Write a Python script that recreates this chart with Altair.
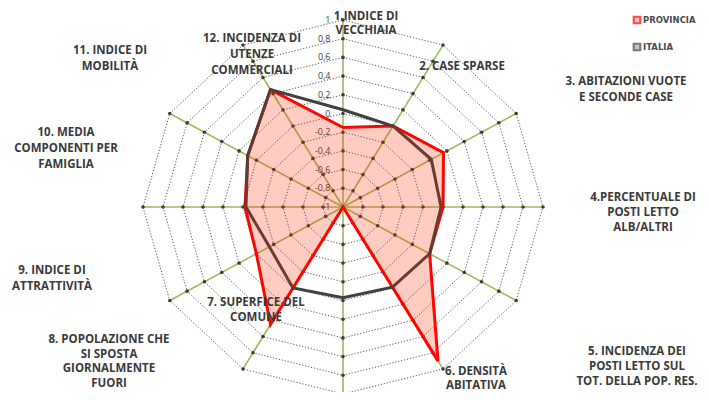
import altair as alt
import pandas as pd
import numpy as np

# ---------------- data ----------------
categories = [
    "1.INDICE DI\nVECCHIAIA",
    "2. CASE SPARSE",
    "3. ABITAZIONI VUOTE\nE SECONDE CASE",
    "4.PERCENTUALE DI\nPOSTI LETTO\nALB/ALTRI",
    "5. INCIDENZA DEI\nPOSTI LETTO SUL\nTOT. DELLA POP. RES.",
    "6. DENSITÀ\nABITATIVA",
    "7. SUPERFICE DEL\nCOMUNE",
    "8. POPOLAZIONE CHE\nSI SPOSTA\nGIORNALMENTE\nFUORI",
    "9. INDICE DI\nATTRATTIVITÀ",
    "10. MEDIA\nCOMPONENTI PER\nFAMIGLIA",
    "11. INDICE DI\nMOBILITÀ",
    "12. INCIDENZA DI\nUTENZE\nCOMMERCIALI",
]
provincia = [-0.15, 0.0, 0.16, 0.0, 0.0, 0.9, -1.0, 0.45, 0.0, -0.02, 0.1, 0.45]
italia = [0.04, 0.0, 0.02, -0.02, 0.0, -0.01, -0.03, 0.0, -0.15, -0.03, 0.1, 0.45]
series_names = ["PROVINCIA", "ITALIA"]
tick_values = [1, 0.8, 0.6, 0.4, 0.2, 0, -0.2, -0.4, -0.6, -0.8, -1]
tick_labels = ["1", "0,8", "0,6", "0,4", "0,2", "0", "-0,2", "-0,4", "-0,6", "-0,8", "-1"]

# ---------------- layout ----------------
W, H = 693, 384
CX, CY = 335, 199          # chart centre in plot pixels
KX, KY = 100.0, 93.5       # pixels per radial unit (horizontal / vertical)
RMIN = -1.0
FS = 11.5                  # category label font size
# first-line centres of category labels (page pixels) and line heights - layout only
label_pos = [(366, 16.5), (462, 67), (626, 82), (643, 198), (637, 352), (476, 372),
             (256, 303), (109, 340), (52, 271), (66, 133), (110, 51), (252, 39)]
label_lh = [14.5, 15.8, 16, 15, 15.2, 14, 15, 14.5, 15.5, 15.8, 15.5, 15.8]
legend_pos = [(637, 20), (637, 47)]

xdom = [(0 - CX) / KX, (W - CX) / KX]
ydom = [(CY - H) / KY, CY / KY]
xs = alt.Scale(domain=xdom, nice=False, zero=False)
ys = alt.Scale(domain=ydom, nice=False, zero=False)
N = len(categories)
ang = np.arange(N) * 2 * np.pi / N


def px2x(px):
    return (px - 8 - CX) / KX


def py2y(py):
    return (CY - (py - 8)) / KY


# rings
ring_rows = []
for k, v in enumerate(tick_values[:-1]):
    r = v - RMIN
    for i in range(N + 1):
        a = ang[i % N]
        ring_rows.append({"ring": k, "i": i, "x": r * np.sin(a), "y": r * np.cos(a)})
rings = pd.DataFrame(ring_rows)

# spokes
rmax = max(tick_values) - RMIN
spokes = pd.DataFrame({"x": 0.0, "y": 0.0, "x2": rmax * np.sin(ang), "y2": rmax * np.cos(ang)})

# dots at every ring/spoke crossing
dot_rows = [{"x": 0.0, "y": 0.0}]
for v in tick_values[:-1]:
    r = v - RMIN
    for a in ang:
        dot_rows.append({"x": r * np.sin(a), "y": r * np.cos(a)})
dots = pd.DataFrame(dot_rows)

# tick labels along first axis
ticks = pd.DataFrame({"x": -0.125, "y": [v - RMIN for v in tick_values], "t": tick_labels})


def poly(vals, name):
    rows = []
    for i in range(N + 1):
        r = vals[i % N] - RMIN
        a = ang[i % N]
        rows.append({"s": name, "i": i, "x": r * np.sin(a), "y": r * np.cos(a)})
    return pd.DataFrame(rows)


prov = poly(provincia, series_names[0])
ital = poly(italia, series_names[1])

# one row per label line (keeps each line's own spacing)
lab_rows = []
for t, (px, py), lh in zip(categories, label_pos, label_lh):
    for j, line in enumerate(t.split("\n")):
        lab_rows.append({"t": line, "x": px2x(px), "y": py2y(py + j * lh)})
labels = pd.DataFrame(lab_rows)

legend = pd.DataFrame({
    "s": series_names,
    "x": [px2x(p[0]) for p in legend_pos],
    "y": [py2y(p[1]) for p in legend_pos],
    "xt": [px2x(p[0] + 6) for p in legend_pos],
})

X = lambda f="x": alt.X(f, type="quantitative", scale=xs, axis=None)
Y = lambda f="y": alt.Y(f, type="quantitative", scale=ys, axis=None)

ring_layer = alt.Chart(rings).mark_line(color="#5a5a5a", strokeWidth=1, strokeDash=[1.2, 1.8]).encode(
    x=X(), y=Y(), detail="ring:N", order="i:Q")
spoke_layer = alt.Chart(spokes).mark_rule(color="#9bbb59", strokeWidth=1.6).encode(
    x=X(), y=Y(), x2="x2:Q", y2="y2:Q")
dot_layer = alt.Chart(dots).mark_point(filled=True, color="#3c3c3c", size=13, opacity=1).encode(x=X(), y=Y())
tick_layer = alt.Chart(ticks).mark_text(align="right", baseline="middle", fontSize=9, font="Open Sans",
                                        color="#404040").encode(x=X(), y=Y(), text="t:N")
red_line = alt.Chart(prov).mark_line(color="#ff0000", strokeWidth=3, strokeJoin="miter").encode(
    x=X(), y=Y(), order="i:Q")
dark_line = alt.Chart(ital).mark_line(color="#404040", strokeWidth=3, strokeJoin="miter").encode(
    x=X(), y=Y(), order="i:Q")
fill_layer = alt.Chart(prov).mark_line(fill="#ff2a00", fillOpacity=0.24, strokeOpacity=0, strokeWidth=0).encode(
    x=X(), y=Y(), order="i:Q")
label_layer = alt.Chart(labels).mark_text(align="center", baseline="middle", fontSize=FS, font="Open Sans",
                                          fontWeight="bold", color="#3a3a3a").encode(x=X(), y=Y(), text="t:N")
leg_sq = alt.Chart(legend).mark_point(shape="square", filled=True, size=42, strokeWidth=2.2).encode(
    x=X(), y=Y(),
    stroke=alt.Stroke("s:N", scale=alt.Scale(domain=series_names, range=["#ff0000", "#404040"]), legend=None),
    fill=alt.Fill("s:N", scale=alt.Scale(domain=series_names, range=["#ffb3b3", "#b0b0b0"]), legend=None))
leg_tx = alt.Chart(legend).mark_text(align="left", baseline="middle", fontSize=8.5, font="DejaVu Sans",
                                     fontWeight="bold", color="#4a4a4a").encode(x=X("xt"), y=Y(), text="s:N")

chart = alt.layer(ring_layer, spoke_layer, dot_layer, tick_layer, red_line, dark_line, fill_layer,
                  label_layer, leg_sq, leg_tx).properties(
    width=W, height=H, autosize=alt.AutoSizeParams(type="none"), padding=0
).configure_view(stroke=None)

chart.save("out.html", embed_options={"renderer": "svg", "actions": False})
